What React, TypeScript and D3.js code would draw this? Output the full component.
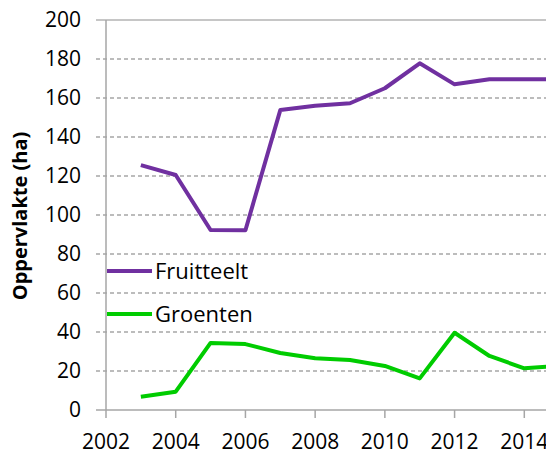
import * as d3 from "d3";

const years = [2003, 2004, 2005, 2006, 2007, 2008, 2009, 2010, 2011, 2012, 2013, 2014, 2015];
const fruitteelt = [125.6, 120.5, 92.3, 92.2, 153.8, 156, 157.3, 165, 177.8, 167, 169.6, 169.6, 169.6];
const groenten = [6.8, 9.4, 34.4, 33.8, 29.2, 26.5, 25.6, 22.6, 16.2, 39.6, 27.7, 21.4, 22.7];
const xTicks = [2002, 2004, 2006, 2008, 2010, 2012, 2014];
const yTicks = [0, 20, 40, 60, 80, 100, 120, 140, 160, 180, 200];

const series = [
  { name: "Fruitteelt", values: fruitteelt, color: "#7030a0" },
  { name: "Groenten", values: groenten, color: "#00cc00" },
];

const W = 546;
const H = 454;
const font = "'Open Sans', 'Liberation Sans', sans-serif";

export default function App() {
  const x = d3.scaleLinear().domain([2002, 2014]).range([106, 524.3]);
  const y = d3.scaleLinear().domain([0, 200]).range([410, 20]);

  const line = d3
    .line<number>()
    .x((_, i) => x(years[i]))
    .y((d) => y(d));

  return (
    <svg
      width={W}
      height={H}
      style={{ position: "absolute", left: 0, top: 0, background: "#fff" }}
      fontFamily={font}
    >
      {/* rasterlijnen */}
      {yTicks.map((t) => (
        <g key={t}>
          {t > 0 && (
            <line
              x1={96}
              x2={W}
              y1={y(t)}
              y2={y(t)}
              stroke={t === 200 ? "#b3b3b3" : "#a6a6a6"}
              strokeWidth={1.3}
              strokeDasharray={t === 200 ? undefined : "4 3"}
            />
          )}
          <text
            x={81}
            y={y(t)}
            dy="0.35em"
            textAnchor="end"
            fontSize={21}
            fill="#000"
          >
            {t}
          </text>
        </g>
      ))}
      {/* assen */}
      <line x1={106} x2={106} y1={y(200)} y2={y(0)} stroke="#a6a6a6" strokeWidth={1.5} />
      <line x1={96} x2={W} y1={y(0)} y2={y(0)} stroke="#a6a6a6" strokeWidth={1.5} />
      {xTicks.map((t) => (
        <g key={t}>
          <line x1={x(t)} x2={x(t)} y1={y(0)} y2={y(0) + 8} stroke="#a6a6a6" strokeWidth={1.5} />
          <text x={x(t)} y={449} textAnchor="middle" fontSize={21} fill="#000">
            {t}
          </text>
        </g>
      ))}
      <text
        transform={`translate(27,${216}) rotate(-90)`}
        textAnchor="middle"
        fontSize={20}
        fontWeight="bold"
        fill="#000"
      >
        Oppervlakte (ha)
      </text>
      {/* lijnen */}
      {series.map((s) => (
        <path
          key={s.name}
          d={line(s.values) ?? ""}
          fill="none"
          stroke={s.color}
          strokeWidth={4}
          strokeLinejoin="round"
        />
      ))}
      {/* legenda */}
      {series.map((s, i) => (
        <g key={s.name} transform={`translate(107,${271 + i * 43})`}>
          <line x1={0} x2={45} y1={0} y2={0} stroke={s.color} strokeWidth={4} />
          <text x={48} y={0} dy="0.35em" fontSize={22} fill="#000">
            {s.name}
          </text>
        </g>
      ))}
    </svg>
  );
}
